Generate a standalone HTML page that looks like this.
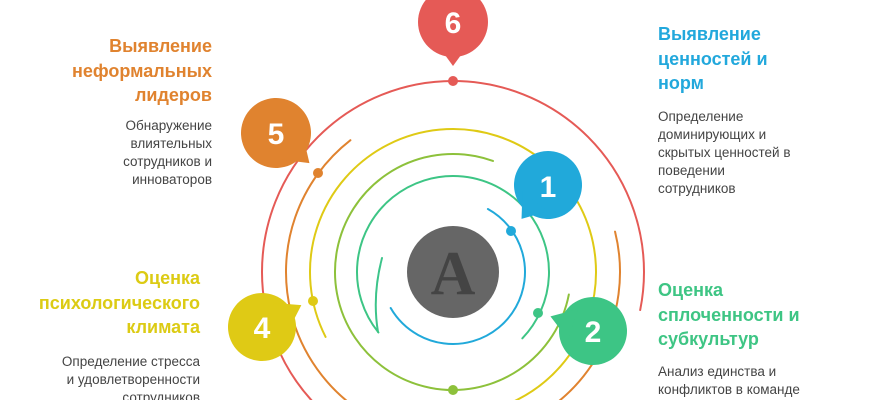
<!DOCTYPE html>
<html><head><meta charset="utf-8"><style>
html,body{margin:0;padding:0;background:#fff;width:870px;height:400px;overflow:hidden}
body{position:relative;font-family:"Liberation Sans","DejaVu Sans",sans-serif}
.t{position:absolute;font-weight:bold;font-size:18px;line-height:24.5px;white-space:nowrap}
.d{position:absolute;font-size:13.5px;line-height:18px;color:#444;white-space:nowrap}
</style></head><body>
<svg width="870" height="400" style="position:absolute;left:0;top:0" fill="none" stroke-width="2">
<g stroke-linecap="round">
<circle cx="453" cy="272" r="72" stroke="#21a9da" stroke-dasharray="265 2000" transform="rotate(-61 453 272)"/>
<path d="M382 258 Q372 296 378 332" stroke="#3cc48a"/>
<circle cx="453" cy="272" r="96" stroke="#3dc585" stroke-dasharray="440 2000" transform="rotate(141 453 272)"/>
<circle cx="453" cy="272" r="118" stroke="#8dc13b" stroke-dasharray="574 2000" transform="rotate(11 453 272)"/>
<circle cx="453" cy="272" r="143" stroke="#dfca15" stroke-dasharray="716 2000" transform="rotate(153 453 272)"/>
<circle cx="453" cy="272" r="167" stroke="#e0832f" stroke-dasharray="717 2000" transform="rotate(-14 453 272)"/>
<circle cx="453" cy="272" r="191" stroke="#e55a56" stroke-dasharray="938 2000" transform="rotate(90 453 272)"/>
</g>
<g stroke="none">
<circle cx="453" cy="81" r="5" fill="#e55a56"/>
<circle cx="318" cy="173" r="5" fill="#e0832f"/>
<circle cx="313" cy="301" r="5" fill="#dfca15"/>
<circle cx="453" cy="390" r="5" fill="#8dc13b"/>
<circle cx="538" cy="313" r="5" fill="#3dc585"/>
<circle cx="511" cy="231" r="5" fill="#21a9da"/>
<circle cx="453" cy="272" r="46" fill="#666"/>
<g transform="translate(453 22) rotate(90)" fill="#e55a56"><circle r="35"/><polygon points="44,0 22,-16 22,16"/></g>
<g transform="translate(276 133) rotate(42)" fill="#e0832f"><circle r="35"/><polygon points="45,0 22,-16 22,16"/></g>
<g transform="translate(548 185) rotate(128)" fill="#21a9da"><circle r="34"/><polygon points="43,0 21,-16 21,16"/></g>
<g transform="translate(262 327) rotate(-29)" fill="#dfca15"><circle r="34"/><polygon points="45,0 21,-16 21,16"/></g>
<g transform="translate(593 331) rotate(199)" fill="#3dc585"><circle r="34"/><polygon points="45,0 21,-16 21,16"/></g>
</g>
<g fill="#fff" font-family="Liberation Sans, sans-serif" font-weight="bold" font-size="30" text-anchor="middle" stroke="none">
<text x="453" y="33">6</text>
<text x="276" y="144">5</text>
<text x="548" y="197">1</text>
<text x="262" y="338">4</text>
<text x="593" y="342">2</text>
</g>
<text x="453" y="294" fill="#444" stroke="none" font-family="Liberation Serif, serif" font-weight="bold" font-size="62" text-anchor="middle">A</text>
</svg>
<div class="t" style="right:658px;top:34px;text-align:right;color:#e0832f">Выявление<br>неформальных<br>лидеров</div>
<div class="d" style="right:658px;top:117px;text-align:right">Обнаружение<br>влиятельных<br>сотрудников и<br>инноваторов</div>
<div class="t" style="right:670px;top:266px;text-align:right;color:#dccb14">Оценка<br>психологического<br>климата</div>
<div class="d" style="right:670px;top:353px;text-align:right">Определение стресса<br>и удовлетворенности<br>сотрудников</div>
<div class="t" style="left:658px;top:22px;color:#22a8dc">Выявление<br>ценностей и<br>норм</div>
<div class="d" style="left:658px;top:108px">Определение<br>доминирующих и<br>скрытых ценностей в<br>поведении<br>сотрудников</div>
<div class="t" style="left:658px;top:278px;color:#3ec584">Оценка<br>сплоченности и<br>субкультур</div>
<div class="d" style="left:658px;top:363px">Анализ единства и<br>конфликтов в команде</div>
</body></html>
